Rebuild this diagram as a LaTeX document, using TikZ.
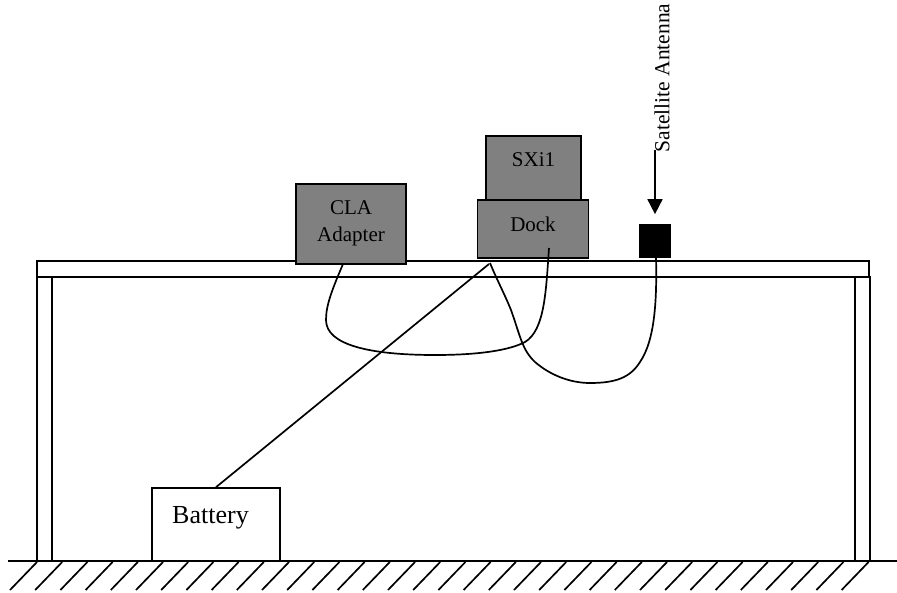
\documentclass[tikz,border=0pt]{standalone}
\usepackage{fontspec}
\setmainfont{Liberation Serif}
\usetikzlibrary{arrows.meta}
\definecolor{boxgray}{gray}{0.5}
\tikzset{pin/.style={-{Triangle[length=15pt, width=15pt]}},
  wire/.style={line width=1.7pt},
  blk/.style={draw, line width=1.7pt, fill=boxgray, inner sep=0pt, align=center, font=\fontsize{21}{27}\selectfont},
  frm/.style={draw, line width=1.6pt, fill=white, inner sep=0pt}}

\begin{document}
\begin{tikzpicture}[x=1pt, y=-1pt, wire]
  \useasboundingbox (0,0) rectangle (897,592);
  % table
  \node[frm, minimum width=832pt, minimum height=16pt] (top) at (453,269) {};
  \node[frm, minimum width=15pt, minimum height=284pt] (legl) at (44.5,419) {};
  \node[frm, minimum width=15pt, minimum height=284pt] (legr) at (862.5,419) {};
  % ground
  \node[frm, minimum width=128pt, minimum height=73pt] (batt) at (216,524.5) {};
  \node[font=\fontsize{26}{30}\selectfont] (battlbl) at (210.5,518) {Battery};
  \draw[line width=1.8pt] (8,561) -- (897,561);
  \foreach \i in {0,...,33}
    \draw ({37+25.2*\i},562) -- ++(-27,28);
  % boxes
  \node[blk, minimum width=110pt, minimum height=80pt, text depth=6pt] (cla) at (351,224) {CLA\\Adapter};
  \node[blk, minimum width=95pt, minimum height=64pt, text depth=16pt] (sxi) at (533.5,168) {SXi1};
  \node[blk, minimum width=111pt, minimum height=58pt, text depth=10pt] (dock) at (533,229) {Dock};
  \node[draw, fill=black, minimum width=30pt, minimum height=32pt, inner sep=0pt] (ant) at (655,241) {};
  \node[rotate=90, font=\fontsize{21.5}{26}\selectfont] (antlbl) at (662,78) {Satellite Antenna};
  % cables
  \coordinate (claout) at (343,264);
  \coordinate (dockin) at (549,248);
  \coordinate (dockpwr) at (489,264);
  \coordinate (dockant) at (490,263);
  \coordinate (antout) at (656,257);
  \coordinate (feed) at (655,150);
  \draw (claout) .. controls (332,290) and (326,305) .. (326,320)
    .. controls (326,345) and (370,355) .. (435,355)
    .. controls (480,355) and (510,350) .. (525,342)
    .. controls (545,330) and (546,290) .. (dockin);
  \draw (dockant) .. controls (497,280) and (505,295) .. (511,310)
    .. controls (520,335) and (522,350) .. (535,362)
    .. controls (550,375) and (570,383) .. (590,383)
    .. controls (615,383) and (630,378) .. (640,362)
    .. controls (655,340) and (657,300) .. (antout);
  \draw (batt.north) -- (dockpwr);
  \draw[pin, shorten >=10pt] (feed) -- (ant.north);
\end{tikzpicture}
\end{document}
